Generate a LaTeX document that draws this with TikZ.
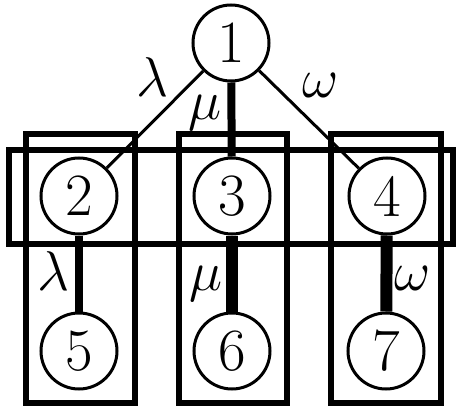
\RequirePackage{fix-cm}
\documentclass[tikz,border=0pt]{standalone}
\usepackage{tikz}
\usetikzlibrary{positioning}

\begin{document}
\begin{tikzpicture}[
    x=0.5pt, y=-0.5pt,
    every node/.style={font=\fontsize{30}{36}\selectfont},
    vtx/.style={circle, draw, line width=1.5pt, inner sep=0pt, minimum size=38pt},
    grp/.style={draw, line width=3.25pt},
    link/.style={line width=1.5pt},
    linkM/.style={line width=4pt},
    linkH/.style={line width=6pt},
    wt/.style={inner sep=0pt, font=\fontsize{28}{34}\selectfont},
  ]
  \useasboundingbox (0,0) rectangle (456,407);

  % the tree: root, middle row, leaves
  \node[vtx] (n1) at (231,43)  {1};
  \node[vtx] (n2) at (79,196)  {2};
  \node[vtx] (n3) at (232,196) {3};
  \node[vtx] (n4) at (387,196) {4};
  \node[vtx] (n5) at (79,351)  {5};
  \node[vtx] (n6) at (232,351) {6};
  \node[vtx] (n7) at (386,351) {7};

  \draw[link]  (n1) -- (n2);
  \draw[linkM] (n1) -- (n3);
  \draw[link]  (n1) -- (n4);
  \draw[linkM] (n2) -- (n5);
  \draw[linkH] (n3) -- (n6);
  \draw[linkH] (n4) -- (n7);

  % the blocks: one per branch, one across the middle row
  \draw[grp] (26,134)  rectangle (135,403);
  \draw[grp] (179,134) rectangle (287,403);
  \draw[grp] (331,134) rectangle (441,403);
  \draw[grp] (9,150)   rectangle (453,244);

  % edge weights
  \node[wt] (w12) at (152,77)  {$\lambda$};
  \node[wt] (w13) at (205,113) {$\mu$};
  \node[wt] (w14) at (321,85)  {$\omega$};
  \node[wt] (w25) at (53,271)  {$\lambda$};
  \node[wt] (w36) at (206,284) {$\mu$};
  \node[wt] (w47) at (413,278) {$\omega$};
\end{tikzpicture}
\end{document}
